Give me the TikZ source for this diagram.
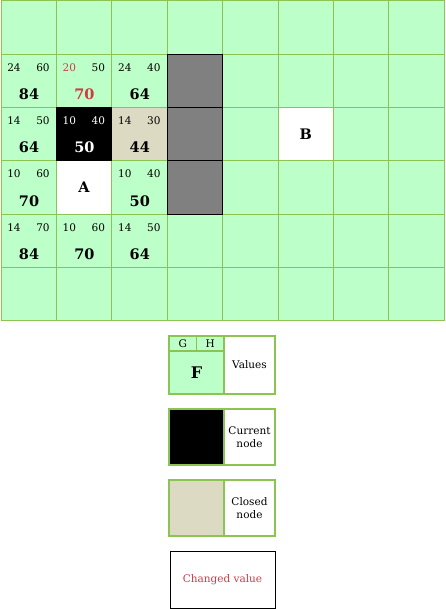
\documentclass[tikz,border=0pt]{standalone}
\usepackage{fontspec}
\setmainfont{DejaVu Serif}
\usetikzlibrary{positioning, calc}

\definecolor{cellgreen}{RGB}{188,255,200}
\definecolor{gridgreen}{RGB}{140,196,84}
\definecolor{wallgray}{RGB}{128,128,128}
\definecolor{closedbeige}{RGB}{220,218,194}
\definecolor{changedred}{RGB}{208,58,68}

\begin{document}
\begin{tikzpicture}[x=1pt, y=-1pt, node distance=15pt and 0pt,
		cell/.style={rectangle, draw=gridgreen, line width=1pt, fill=cellgreen, minimum width=55.4pt, minimum height=53.3pt, inner sep=0pt, outer sep=0pt, anchor=north west, font=\fontsize{14.5}{17}\selectfont\bfseries},
		wall/.style={cell, fill=wallgray, draw=black},
		small/.style={font=\fontsize{10.5}{12}\selectfont, inner sep=0pt},
		big/.style={font=\fontsize{14.5}{17}\selectfont\bfseries, inner sep=0pt},
		legbox/.style={rectangle, draw=gridgreen, line width=1.2pt, minimum width=55pt, minimum height=56pt, inner sep=0pt, outer sep=0pt, align=center, font=\fontsize{10.5}{13.5}\selectfont}]
		
		\useasboundingbox (0,0) rectangle (445,609);
		
		% grid
		\foreach \c in {0,...,7}
			\foreach \r in {0,...,5}
				\node[cell] (c\c\r) at ({1+55.4*\c},{1+53.3*\r}) {};
		
		\node[cell, fill=white] (start) at (c13.north west) {A};
		\node[cell, fill=white] (goal) at (c52.north west) {B};
		\node[cell, fill=closedbeige] (closed) at (c22.north west) {};
		\node[cell, fill=black, draw=black] (current) at (c12.north west) {};
		\foreach \r in {1,2,3}
			\node[wall] (wall\r) at (c3\r.north west) {};
		
		% G, H and F values
		\foreach \c/\r/\g/\h/\f/\gc/\hc in {0/1/24/60/84/black/black, 1/1/20/50/70/changedred/black, 2/1/24/40/64/black/black,
				0/2/14/50/64/black/black, 1/2/10/40/50/white/white, 2/2/14/30/44/black/black,
				0/3/10/60/70/black/black, 2/3/10/40/50/black/black,
				0/4/14/70/84/black/black, 1/4/10/60/70/black/black, 2/4/14/50/64/black/black}
		{
			\node[small, text=\gc] (g\c\r) at ([shift={(13,13)}]c\c\r.north west) {\g};
			\node[small, text=\hc] (h\c\r) at ([shift={(42,13)}]c\c\r.north west) {\h};
			\node[big, text=\gc] (f\c\r) at ([shift={(28,40)}]c\c\r.north west) {\f};
		}
		
		% legend
		\node[legbox, fill=cellgreen, minimum height=58pt, anchor=north west] (lf) at (169,336) {};
		\node[legbox, fill=cellgreen, minimum width=27.5pt, minimum height=15pt, anchor=north west] (lg) at (lf.north west) {G};
		\node[legbox, fill=cellgreen, minimum width=27.5pt, minimum height=15pt, right=0pt of lg] (lh) {H};
		\node[big, font=\fontsize{16}{19}\selectfont\bfseries] (lfval) at ($(lg.south east)!0.5!(lg.south east |- lf.south)$) {F};
		\node[legbox, minimum width=51pt, minimum height=58pt, right=0pt of lf] (lvalues) {Values};
		
		\node[legbox, fill=black, below=of lf] (lcur) {};
		\node[legbox, minimum width=51pt, right=0pt of lcur] (lcurtext) {Current\\node};
		
		\node[legbox, fill=closedbeige, below=of lcur] (lclosed) {};
		\node[legbox, minimum width=51pt, right=0pt of lclosed] (lclosedtext) {Closed\\node};
		
		\node[legbox, draw=black, line width=0.9pt, minimum width=105pt, minimum height=57pt, text=changedred, below right=15pt and 1pt of lclosed.south west] (lchanged) {Changed value};
	\end{tikzpicture}
\end{document}
